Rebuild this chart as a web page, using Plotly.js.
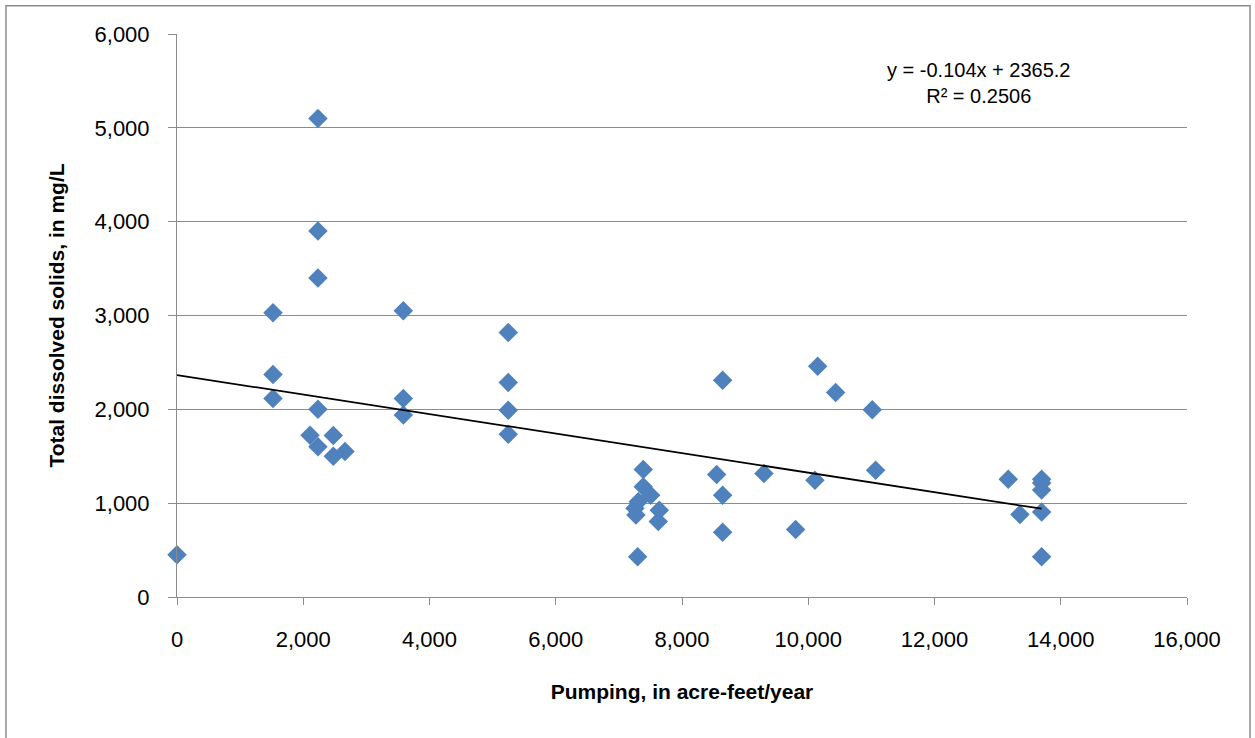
<!DOCTYPE html>
<html>
<head>
<meta charset="utf-8">
<script src="https://cdn.plot.ly/plotly-3.0.1.min.js"></script>
<style>html,body{margin:0;padding:0;background:#fff;}#chart{width:1255px;height:738px;}</style>
</head>
<body>
<div id="chart"></div>
<script>
// Pumping (acre-feet/year)
const pumping = [
  0,
  1521, 1521, 1521,
  2233, 2233, 2233, 2233, 2233,
  2107, 2476, 2476, 2661,
  3585, 3585, 3585,
  5248, 5248, 5248, 5248,
  7386, 7386, 7503, 7307, 7255, 7270, 7640, 7624, 7297,
  8644, 8644, 8644, 8549,
  9298, 10149, 10434, 11014, 10106, 9800, 11067,
  13168, 13353, 13697, 13697, 13697, 13697, 13697
];
// Total dissolved solids (mg/L)
const tds = [
  450,
  3030, 2370, 2115,
  5100, 3900, 3400, 2000, 1600,
  1725, 1720, 1500, 1550,
  3050, 2115, 1940,
  2820, 2285, 1990, 1735,
  1360, 1175, 1085, 1015, 945, 875, 925, 805, 430,
  2310, 1085, 690, 1305,
  1315, 2460, 2180, 1995, 1245, 720, 1350,
  1255, 880, 1255, 1215, 1140, 905, 430
];
// Linear trendline as reported on the chart
const trendSlope = -0.104;
const trendIntercept = 2365.2;
const trendX = [0, 13697];
const trendLabel = ['y = -0.104x + 2365.2', 'R² = 0.2506'];

const xTicks = [0, 2000, 4000, 6000, 8000, 10000, 12000, 14000, 16000];
const yTicks = [0, 1000, 2000, 3000, 4000, 5000, 6000];

const gray = '#8c8c8c';
const tickFont = {family: 'Liberation Sans, Arial, sans-serif', size: 22, color: '#000'};
const titleFont = {family: 'Liberation Sans, Arial, sans-serif', size: 21, color: '#000', weight: 'bold'};

const traces = [
  {
    x: pumping, y: tds, type: 'scatter', mode: 'markers',
    marker: {symbol: 'diamond', size: 15, color: '#4F81BD'},
    cliponaxis: false, hoverinfo: 'x+y', showlegend: false
  },
  {
    x: trendX, y: trendX.map(v => trendSlope * v + trendIntercept),
    type: 'scatter', mode: 'lines',
    line: {color: '#000', width: 1.75}, showlegend: false
  }
];

const layout = {
  width: 1255, height: 738,
  margin: {l: 177, r: 68, t: 34, b: 141},
  paper_bgcolor: '#fff', plot_bgcolor: '#fff',
  xaxis: {
    range: [0, 16000], tickvals: xTicks, tickformat: ',d',
    showgrid: false, zeroline: false,
    showline: true, linecolor: gray, linewidth: 1,
    ticks: 'outside', ticklen: 7, tickcolor: gray, tickwidth: 1,
    tickfont: tickFont, ticklabelstandoff: 16,
    title: {text: 'Pumping, in acre-feet/year', font: titleFont, standoff: 32}
  },
  yaxis: {
    range: [0, 6000], tickvals: yTicks, tickformat: ',d',
    showgrid: true, gridcolor: gray, gridwidth: 1, zeroline: false,
    showline: true, linecolor: gray, linewidth: 1,
    ticks: 'outside', ticklen: 8, tickcolor: gray, tickwidth: 1,
    tickfont: tickFont, ticklabelstandoff: 14,
    title: {text: 'Total dissolved solids, in mg/L', font: titleFont, standoff: 24}
  },
  annotations: [{
    xref: 'paper', yref: 'paper', x: 0.794, y: 0.913,
    xanchor: 'center', yanchor: 'middle', align: 'center', showarrow: false,
    text: trendLabel.join('<br>'),
    font: {family: 'Liberation Sans, Arial, sans-serif', size: 20, color: '#000'}
  }],
  shapes: [{
    type: 'rect', xref: 'paper', yref: 'paper',
    x0: -0.1693, x1: 1.0624, y0: -0.27, y1: 1.0503,
    line: {color: gray, width: 1.5}, fillcolor: 'rgba(0,0,0,0)', layer: 'below'
  }]
};

Plotly.newPlot('chart', traces, layout, {staticPlot: true});
</script>
</body>
</html>
